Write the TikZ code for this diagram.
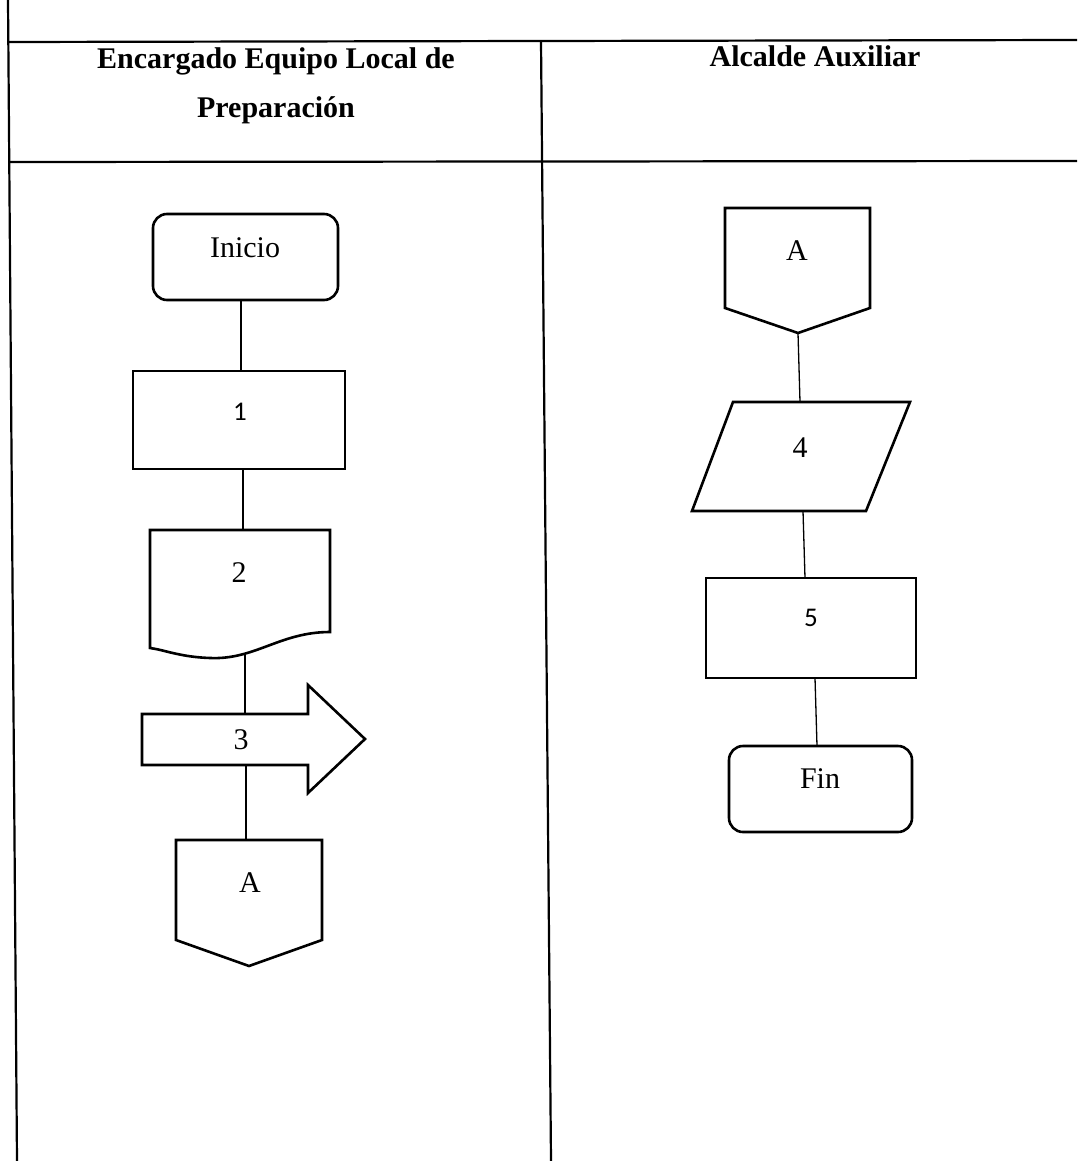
\documentclass[tikz,border=0pt]{standalone}
\usepackage{fontspec}
\setmainfont{Liberation Serif}
\newfontfamily\digitfont{Carlito}
\begin{document}
\begin{tikzpicture}[x=1pt,y=-1pt,
  shp/.style={draw=black,line width=2.6pt,line join=miter,fill=white},
  conn/.style={draw=black,line width=1.3pt},
  frame/.style={draw=black,line width=2.2pt},
  lbl/.style={font=\fontsize{30}{34}\selectfont,inner sep=0pt},
  dlbl/.style={font=\digitfont\fontsize{27}{30}\selectfont,inner sep=0pt},
  hdr/.style={font=\bfseries\fontsize{30}{34}\selectfont,inner sep=0pt}]
\useasboundingbox (0,0) rectangle (1077,1161);
\fill[white] (0,0) rectangle (1077,1161);
% frame
\draw[frame] (8,0) -- (17,1161);
\draw[frame] (8,42) -- (1077,40);
\draw[frame] (10,162) -- (1077,161);
\draw[frame] (541,41) -- (551,1161);
% headers
\node[hdr] (h1) at (276,61) {Encargado Equipo Local de};
\node[hdr] (h1b) at (276,110) {Preparación};
\node[hdr] (h2) at (815,56) {Alcalde Auxiliar};
% ---- left column
% connectors first (behind shapes)
\coordinate (iniB) at (241,300);
\coordinate (b1T) at (241,371);
\coordinate (b1B) at (243,469);
\coordinate (d2T) at (243,530);
\coordinate (d2B) at (245,654);
\coordinate (a3T) at (245,714);
\coordinate (a3B) at (246,765);
\coordinate (cAT) at (246,840);
\draw[conn] (iniB) -- (b1T);
\draw[conn] (b1B) -- (d2T);
\draw[conn] (d2B) -- (a3T);
\draw[conn] (a3B) -- (cAT);
% Inicio
\draw[shp,rounded corners=14pt] (153,214) rectangle (338,300);
\node[lbl] (tini) at (245,248) {Inicio};
% 1
\draw[shp] (133,371) rectangle (345,469);
\node[dlbl] (t1) at (240,412) {1};
% 2 document
\draw[shp] (150,648) -- (150,530) -- (330,530) -- (330,632)
  .. controls (280,632) and (255,660) .. (210,658)
  .. controls (180,657) and (165,650) .. (150,648) -- cycle;
\node[lbl] (t2) at (239,573) {2};
% 3 arrow
\draw[shp] (142,714) -- (308,714) -- (308,685) -- (365,739) -- (308,793)
  -- (308,765) -- (142,765) -- cycle;
\node[lbl] (t3) at (241,740) {3};
% A off-page
\draw[shp] (176,840) -- (322,840) -- (322,940) -- (249,966) -- (176,940) -- cycle;
\node[lbl] (tA1) at (250,883) {A};
% ---- right column
\coordinate (cA2B) at (798,333);
\coordinate (p4T) at (800,402);
\coordinate (p4B) at (803,511);
\coordinate (b5T) at (805,578);
\coordinate (b5B) at (815,678);
\coordinate (finT) at (817,746);
\draw[conn] (cA2B) -- (p4T);
\draw[conn] (p4B) -- (b5T);
\draw[conn] (b5B) -- (finT);
% A connector
\draw[shp] (725,208) -- (870,208) -- (870,308) -- (798,333) -- (725,308) -- cycle;
\node[lbl] (tA2) at (797,251) {A};
% 4 parallelogram
\draw[shp] (733,402) -- (910,402) -- (866,511) -- (692,511) -- cycle;
\node[lbl] (t4) at (800,448) {4};
% 5
\draw[shp] (706,578) rectangle (916,678);
\node[dlbl] (t5) at (811,618) {5};
% Fin
\draw[shp,rounded corners=14pt] (729,746) rectangle (912,832);
\node[lbl] (tfin) at (820,779) {Fin};
\end{tikzpicture}
\end{document}
